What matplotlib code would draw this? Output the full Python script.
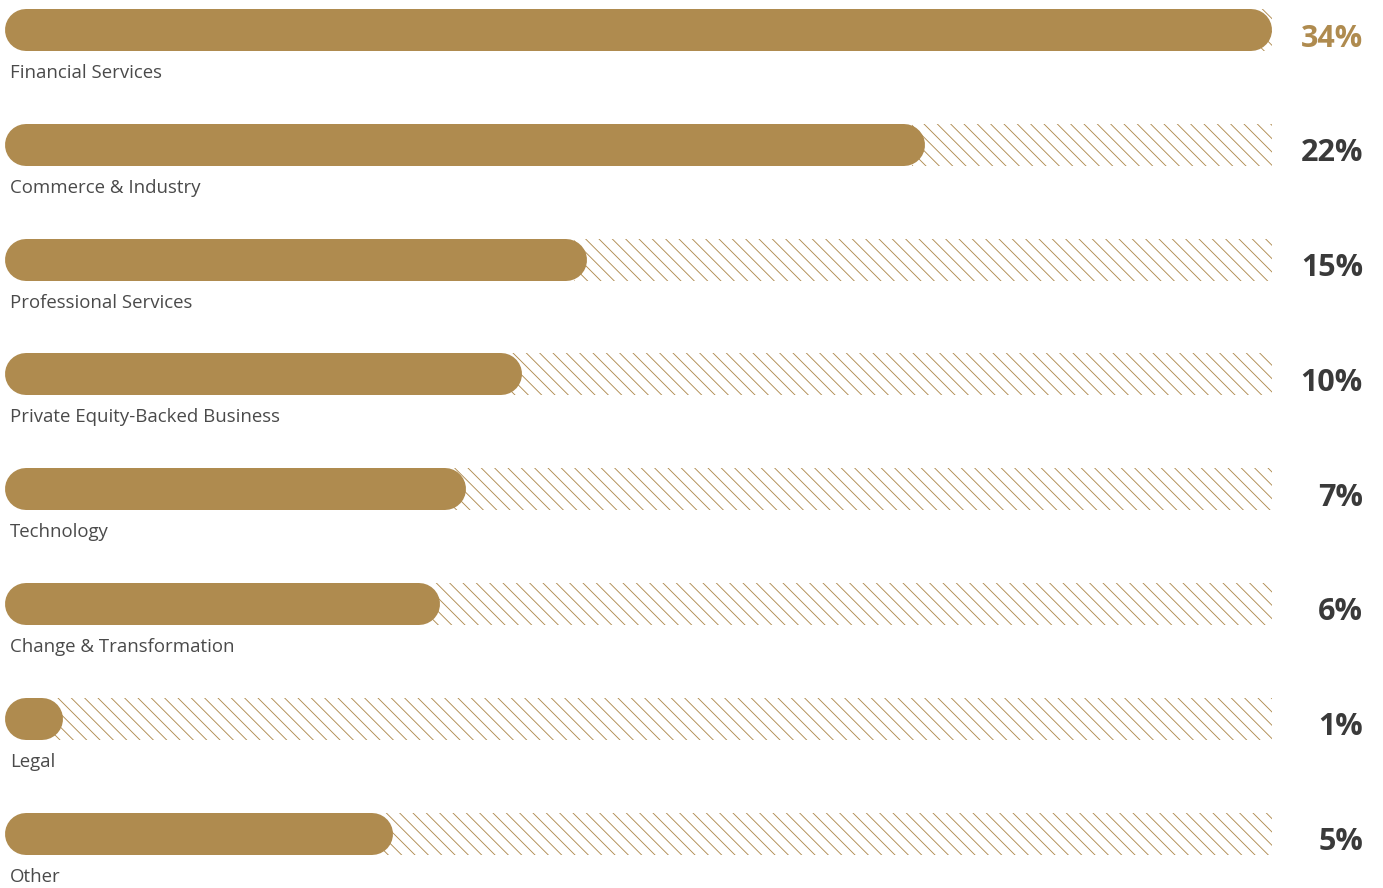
import matplotlib.pyplot as plt

categories = ["Financial Services", "Commerce & Industry", "Professional Services",
              "Private Equity-Backed Business", "Technology", "Change & Transformation",
              "Legal", "Other"]
values = [34, 22, 15, 10, 7, 6, 1, 5]
# visual bar length as % of the track (not linear in the value)
bar_fill = [100, 72.6, 45.9, 40.8, 36.4, 34.3, 4.6, 30.6]

GOLD = "#AF8B4F"
DARK = "#3a3a3a"
DPI = 80
W, H = 1383, 888

plt.rcParams["font.family"] = ["Open Sans", "DejaVu Sans"]
plt.rcParams["hatch.linewidth"] = 0.8

fig = plt.figure(figsize=(W / DPI, H / DPI), dpi=DPI)
ax = fig.add_axes([0, 0, 1, 1])
ax.axis("off")

# pixel -> data mapping: track 0..100 spans px 5..1272
x0_px, x1_px = 5, 1272
ux = 100 / (x1_px - x0_px)
ax.set_xlim(-x0_px * ux, 100 + (W - x1_px) * ux)
y0_px, step_px = 30, 114.8
ax.set_ylim((H - y0_px) / step_px, -y0_px / step_px)

bar_h_px = 42
r = bar_h_px / 2 * ux
lw_pt = bar_h_px * 72 / DPI

for i, (cat, v, f) in enumerate(zip(categories, values, bar_fill)):
    hstart = max(f - r * 0.6, 0)
    ax.barh(i, 100 - hstart, left=hstart, height=bar_h_px / step_px,
            facecolor="none", edgecolor=GOLD, linewidth=0, hatch="\\\\")
    ax.plot([r, f - r], [i, i], color=GOLD, lw=lw_pt, solid_capstyle="round", zorder=3)
    ax.text((10 - x0_px) * ux, i + 48 / step_px, cat, va="baseline", ha="left",
            fontsize=16.8, color="#4a4a4a")
    ax.text((1363 - x0_px) * ux, i + 16.5 / step_px, f"{v}%", va="baseline", ha="right",
            fontsize=27.5, fontweight="bold", color=GOLD if i == 0 else DARK)

fig.savefig("out.png", dpi=DPI, facecolor="white")
